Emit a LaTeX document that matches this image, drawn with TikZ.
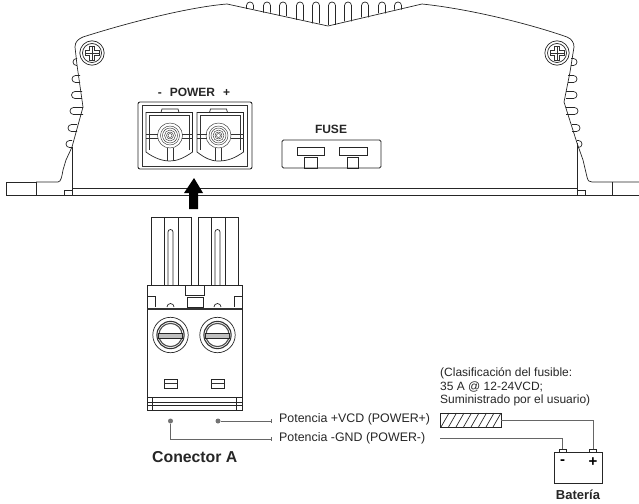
\documentclass[tikz,border=0pt]{standalone}
\usepackage{fontspec}
\setmainfont{Liberation Sans}

\tikzset{
	outline/.style = {draw=black!85, line width=0.7pt},
	thinline/.style = {draw=black!80, line width=0.45pt},
	heavy/.style = {draw=black!85, line width=0.9pt},
	lead/.style = {draw=black!60, line width=0.7pt},
	dot/.style = {circle, fill=black!55, inner sep=0pt, minimum size=5pt},
	label/.style = {font=\fontsize{12.4}{14}\selectfont, text=black!85, inner sep=0pt},
	title/.style = {font=\bfseries\fontsize{15.8}{18}\selectfont, text=black!85, inner sep=0pt},
	panel/.style = {font=\bfseries\fontsize{12}{14}\selectfont, text=black!85, inner sep=0pt},
	term/.style = {draw=black!85, line width=0.8pt, minimum width=7pt, minimum height=3pt, inner sep=0pt}
}
% y runs downwards here, so arcs go by the flipped angles
\newcommand{\finleft}[3]{\draw[outline] (#1,#2-3.5) -- (#3+3.5,#2-3.5) arc (270:90:3.5) -- (#1,#2+3.5);}
\newcommand{\finright}[3]{\draw[outline] (#1,#2-3.5) -- (#3-3.5,#2-3.5) arc (-90:90:3.5) -- (#1,#2+3.5);}
\newcommand{\fintop}[2]{\draw[outline] (#1-3.5,#2) -- (#1-3.5,5.5) arc (180:360:3.5) -- (#1+3.5,#2);}
\newcommand{\screwhead}[2]{
	\draw[outline] (#1,#2) circle (12.2);
	\draw[outline] (#1,#2) circle (9.5);
	\draw[thinline] (#1-2.5,#2-7) -- (#1+2.5,#2-7) -- (#1+2.5,#2-2.5) -- (#1+7,#2-2.5) -- (#1+7,#2+2.5) -- (#1+2.5,#2+2.5) -- (#1+2.5,#2+7) -- (#1-2.5,#2+7) -- (#1-2.5,#2+2.5) -- (#1-7,#2+2.5) -- (#1-7,#2-2.5) -- (#1-2.5,#2-2.5) -- cycle;
	\draw[thinline] (#1,#2-7) -- (#1,#2+7) (#1-7,#2) -- (#1+7,#2);
}
% one half of the power socket
\newcommand{\socket}[2]{
	\draw[outline] (#1,112.5) -- (#1+46.5,112.5) -- (#1+46.5,152) .. controls (#1+38,158) and (#1+31,161) .. (#2,161) .. controls (#2-8,161) and (#1+8,158) .. (#1,152) -- cycle;
	\draw[thinline] (#1+3,115.5) -- (#1+43.5,115.5) -- (#1+43.5,150);
	\draw[thinline] (#1+3,115.5) -- (#1+3,150);
	\draw[outline] (#2-9,112.5) -- (#2-8,109) -- (#2+8,109) -- (#2+9,112.5);
	\draw[thinline] (#1,134) -- (#2-12,134) (#1,138) -- (#2-12,138) (#2+12,134) -- (#1+46.5,134) (#2+12,138) -- (#1+46.5,138);
	\draw[thinline] (#2-3,148) -- (#2-3,161) (#2+3,148) -- (#2+3,161);
	\foreach \r in {2,3.5,5.5,7.5,9.5,12.5}{\draw[thinline] (#2,135.5) circle (\r);}
}
% one half of the plug
\newcommand{\prong}[1]{
	\draw[outline] (#1,285) -- (#1,217) -- (#1+40,217) -- (#1+40,285);
	\draw[outline] (#1+13,217) -- (#1+13,285) (#1+27,217) -- (#1+27,285);
	\draw[outline] (#1+17,285) -- (#1+17,232) arc (180:360:2.5) -- (#1+22,285);
	\draw[outline] (#1+16,307) arc (180:360:3.5);
	\draw[outline] (#1+19.5,335) circle (17.7);
	\draw[black!80, line width=1.1pt] (#1+19.5,335) circle (13.6);
	\draw[black!70, line width=1.1pt] (#1+19.5,335) circle (11.6);
	\draw[outline, fill=black!25] (#1+7.5,333) rectangle (#1+31.5,338);
	\draw[outline] (#1+13,379) rectangle (#1+26,388);
	\draw[thinline] (#1+13,383.5) -- (#1+26,383.5);
}

\begin{document}
\begin{tikzpicture}[x=1pt,y=-1pt]
	\useasboundingbox (0,0) rectangle (639,503);

	% housing
	\draw[outline] (36,182) -- (58,182) .. controls (61,182) and (62,176) .. (63,170) -- (66,160) -- (72,147) -- (83,107) -- (77,65) -- (75,47) .. controls (75,42) and (78,39) .. (83,37) .. controls (130,22) and (190,7) .. (227,4) -- (328,26) -- (422,4) .. controls (470,9) and (530,24) .. (567,37) .. controls (572,39) and (574,43) .. (574,47) -- (570,72) -- (564,102) -- (577,143) -- (583,160) -- (587,177) .. controls (588,181) and (589,182) .. (592,182) -- (639,182);
	\draw[outline] (36,182) -- (6,182) -- (6,195) -- (639,195);
	\draw[outline] (36,182) -- (36,195) (612,182) -- (612,195);
	\draw[outline] (72,188) -- (577,188);
	\draw[outline] (72,147) -- (72,195) (577,143) -- (577,195);
	\draw[outline] (64,195) -- (64,190) -- (72,190) (577,190) -- (585,190) -- (585,195);
	\foreach \x/\y in {250/9,267/12.7,283/16,300/20,316/23.4,332/25,348/21.3,365/17.3,382/13.4,398/9.6}{\fintop{\x}{\y}}
	\foreach \x/\y/\t in {77/62/73,80/79/72,82/95/71.5,83/111/70,77/128/68,72/144/66}{\finleft{\x}{\y}{\t}}
	\foreach \x/\y/\t in {571/62/577,568/79/577,566/95/577,566/111/578,572/128/580,577/144/582}{\finright{\x}{\y}{\t}}
	\screwhead{92}{53}
	\screwhead{557}{53}

	% power socket
	\node[panel] (powerlabel) at (194,92) {-\hspace{8pt}POWER\hspace{8pt}+};
	\draw[heavy, rounded corners=2pt] (138,102) rectangle (252,169);
	\draw[thinline] (142,105) rectangle (247,166);
	\socket{146}{170}
	\socket{197}{218.5}

	% fuse holder
	\node[panel] (fuselabel) at (331,129) {FUSE};
	\draw[heavy, rounded corners=1.5pt] (282,140) rectangle (381,168);
	\draw[outline] (297,147) rectangle (324,155);
	\draw[outline] (339,147) rectangle (367,155);
	\draw[outline] (304,157) rectangle (317,168);
	\draw[outline] (347,157) rectangle (358,168);

	% insert arrow
	\fill[black] (194,178) -- (203,193) -- (198,193) -- (198,209) -- (189,209) -- (189,193) -- (184,193) -- cycle;

	% plug
	\draw[outline] (147,285) rectangle (242,410);
	\draw[black!80, line width=1.3pt] (147,309) -- (242,309);
	\prong{151}
	\prong{198}
	\draw[outline, fill=white] (185,285) rectangle (204,295);
	\draw[outline] (187,297) rectangle (203,307);
	\draw[outline] (147,296) -- (155,296) -- (155,307) (242,296) -- (234,296) -- (234,307);
	\draw[outline] (147,397) -- (242,397) (147,402) -- (242,402) (147,405) -- (242,405);
	\draw[outline] (152,397) -- (152,410) (236,397) -- (236,410);
	\node[title, anchor=west] (plugname) at (152,457) {Conector A};

	% wiring
	\node[dot] (pinplus) at (218,421) {};
	\node[dot] (pinminus) at (170.5,421) {};
	\coordinate (tickplus) at (271,421);
	\coordinate (tickminus) at (271,439);
	\draw[lead] (pinplus) -- (tickplus);
	\draw[lead] (pinminus) |- (tickminus);
	\draw[lead, line width=0.5pt] (271,419) -- (271,423) (271,437) -- (271,441);
	\node[label, anchor=west] (vcdlabel) at (279,419) {Potencia +VCD (POWER+)};
	\node[label, anchor=west] (gndlabel) at (279,438) {Potencia -GND (POWER-)};

	% fuse and battery
	\node[label, anchor=west, font=\fontsize{12}{13.5}\selectfont, align=left] (fusenote) at (440,387) {(Clasificación del fusible:\\35 A @ 12-24VCD;\\Suministrado por el usuario)};
	\node[draw=black!85, line width=0.8pt, minimum width=61pt, minimum height=14pt, inner sep=0pt] (fuse) at (470.5,420) {};
	\foreach \x in {441,448.5,456,463.5,471,478.5,486,493}{\draw[outline] (\x,427) -- (\x+8,413);}
	\coordinate (gndstart) at (440,438);
	\node[draw=black!85, line width=0.8pt, minimum width=48pt, minimum height=31pt, inner sep=0pt] (battery) at (578,467.5) {};
	\node[term] (termminus) at (562.7,450.5) {};
	\node[term] (termplus) at (593,450.5) {};
	\draw[lead, line width=0.6pt] (fuse.east) -| (termplus.north);
	\draw[lead, line width=0.6pt] (gndstart) -| (termminus.north);
	\node[font=\bfseries\fontsize{15}{16}\selectfont, inner sep=0pt] (termminuslabel) at (562.7,462.5) {-};
	\node[font=\bfseries\fontsize{15}{16}\selectfont, inner sep=0pt] (termpluslabel) at (593,462.5) {+};
	\node[panel, font=\bfseries\fontsize{13}{15}\selectfont] (batterylabel) at (578,495) {Batería};
\end{tikzpicture}
\end{document}
